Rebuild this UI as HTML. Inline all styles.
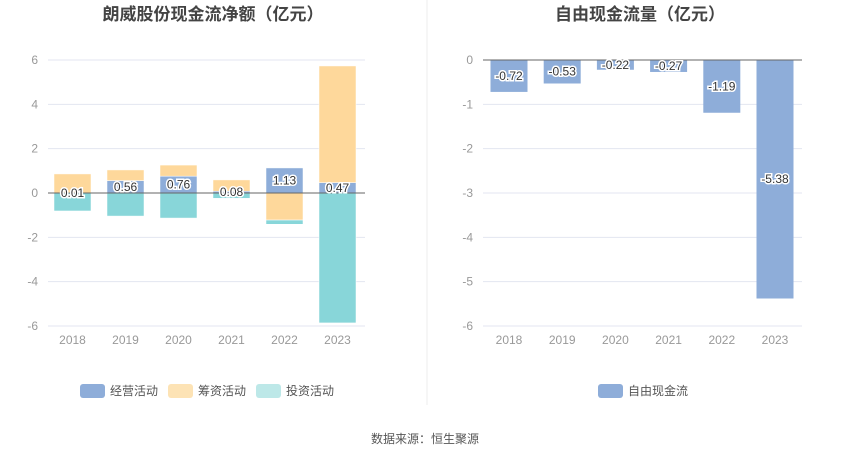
<!DOCTYPE html>
<html><head><meta charset="utf-8"><style>
body{margin:0;background:#fff;font-family:"Liberation Sans","Noto Sans CJK SC",sans-serif;}
svg{display:block}
</style></head><body>
<svg id="c" width="850" height="459" xmlns="http://www.w3.org/2000/svg" font-family="Liberation Sans, Noto Sans CJK SC, sans-serif">
<text x="213" y="20" text-anchor="middle" font-size="17" font-weight="bold" fill="#444">朗威股份现金流净额（亿元）</text>
<text x="640" y="20" text-anchor="middle" font-size="17" font-weight="bold" fill="#444">自由现金流量（亿元）</text>
<line x1="427" y1="0" x2="427" y2="405" stroke="#eee"/>
<g id="left"></g><g id="right"></g>
<g>
<g><rect x="80" y="384" width="25" height="14" rx="3" fill="#8eadd9"/><text x="110" y="395" font-size="12" fill="#555">经营活动</text></g>
<g><rect x="168" y="384" width="25" height="14" rx="3" fill="#fde3b5"/><text x="198" y="395" font-size="12" fill="#555">筹资活动</text></g>
<g><rect x="256" y="384" width="25" height="14" rx="3" fill="#bde8e8"/><text x="286" y="395" font-size="12" fill="#555">投资活动</text></g>
</g>
<g><rect x="598" y="384" width="25" height="14" rx="3" fill="#8eadd9"/><text x="628" y="395" font-size="12" fill="#555">自由现金流</text></g>
<text x="425" y="443" text-anchor="middle" font-size="12" fill="#555">数据来源：恒生聚源</text>
</svg>
<script>
const years=["2018","2019","2020","2021","2022","2023"];
const operating=[0.01,0.56,0.76,0.08,1.13,0.47];
const financing=[0.85,0.48,0.50,0.51,-1.22,5.26];
const investing=[-0.81,-1.04,-1.13,-0.24,-0.19,-5.86];
const fcf=[-0.72,-0.53,-0.22,-0.27,-1.19,-5.38];
const leftTicks=[6,4,2,0,-2,-4,-6];
const rightTicks=[0,-1,-2,-3,-4,-5,-6];
const NS="http://www.w3.org/2000/svg";
function mk(p,t,a){const e=document.createElementNS(NS,t);for(const k in a)e.setAttribute(k,a[k]);p.appendChild(e);return e;}
function axis(g,x0,x1,yOf,ticks,xOf,prefix){
  ticks.forEach(t=>{const y=yOf(t);
    const l=mk(g,'line',{x1:x0,x2:x1,y1:y,y2:y,stroke:t===0?'#666':'#e3e6f0'});
    
    
    const tx=mk(g,'text',{x:x0-10,y:y+4,'text-anchor':'end','font-size':12,fill:'#999'});tx.textContent=t;
    
    });
  years.forEach((yr,i)=>{const tx=mk(g,'text',{x:xOf(i),y:344,'text-anchor':'middle','font-size':12,fill:'#999'});tx.textContent=yr;
    
    });
}
function label(g,x,y,v){const t=mk(g,'text',{x:x,y:y+4,'text-anchor':'middle','font-size':12,fill:'#333',stroke:'#fff','stroke-width':3,'paint-order':'stroke'});t.textContent=v.toFixed(2);
  
  }
// left
const L=document.getElementById('left');
const ly=v=>193-v*22.17, lx=i=>72.5+i*53, bw=37;
axis(L,48,365,ly,leftTicks,lx,'left');
years.forEach((yr,i)=>{
  let pos=0,neg=0;
  [[operating,'#8eadd9','operating'],[financing,'#fed89b','financing'],[investing,'#88d6d9','investing']].forEach(([arr,c,n])=>{
    const v=arr[i];let a,b;
    if(v>=0){a=pos;b=pos+v;pos=b;}else{a=neg;b=neg+v;neg=b;}
    const r=mk(L,'rect',{x:lx(i)-bw/2,y:Math.min(ly(a),ly(b)),width:bw,height:Math.abs(ly(a)-ly(b)),fill:c,stroke:'#fff','stroke-width':0.5});
    
    
  });
});
L.appendChild(mk(L,'line',{x1:48,x2:365,y1:ly(0),y2:ly(0),stroke:'#666'}));
years.forEach((yr,i)=>label(L,lx(i),ly(operating[i]/2),operating[i]));
// right
const R=document.getElementById('right');
const ry=v=>60-v*44.33, rx=i=>509+i*53.2;
axis(R,483,802,ry,rightTicks,rx,'right');
years.forEach((yr,i)=>{
  const r=mk(R,'rect',{x:rx(i)-bw/2,y:ry(0),width:bw,height:ry(fcf[i])-ry(0),fill:'#8eadd9'});
  
  
});
R.appendChild(mk(R,'line',{x1:483,x2:802,y1:ry(0),y2:ry(0),stroke:'#666'}));
years.forEach((yr,i)=>label(R,rx(i),ry(fcf[i]/2),fcf[i]));
</script>
</body></html>
